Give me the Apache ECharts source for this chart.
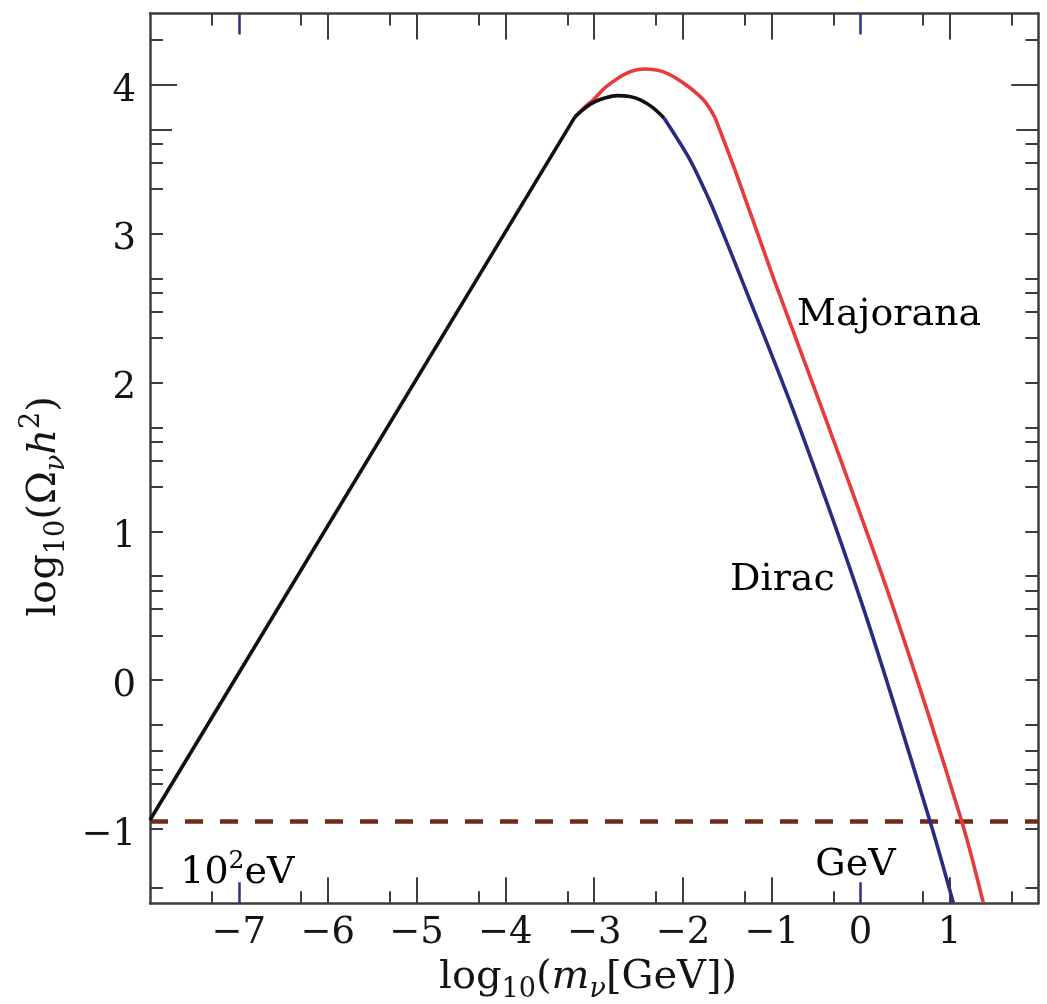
<!DOCTYPE html>
<html>
<head>
<meta charset="utf-8">
<script src="https://cdn.jsdelivr.net/npm/echarts@6/dist/echarts.min.js"></script>
<style>
  html, body { margin: 0; padding: 0; background: #ffffff; }
  #chart { width: 1047px; height: 1004px; }
</style>
</head>
<body>
<div id="chart"></div>
<script>
// log10(m_nu / GeV) against log10(Omega_nu h^2)

// light (relativistic decoupling) branch
const lightMass  = [-8.0, -3.216];
const lightOmega = [-0.94, 3.785];

// common turnover before the Dirac branch splits off
const peakMass  = [-3.216, -3.10, -3.00, -2.88, -2.74, -2.60, -2.48, -2.35, -2.214];
const peakOmega = [ 3.785,  3.846, 3.884, 3.912, 3.928, 3.922, 3.900, 3.852, 3.778];

// Dirac neutrino
const diracMass  = [-2.214, -1.921, -1.715, -1.583, -1.339, -0.720, 0.030, 0.781, 1.043];
const diracOmega = [ 3.778,  3.497,  3.241,  3.054,  2.692,  1.751, 0.485, -0.949, -1.497];

// Majorana neutrino: rounded top up to the kink, then the falling branch
const majoranaTopMass   = [-3.216, -3.10, -3.01, -2.86, -2.63, -2.43, -2.22, -2.00, -1.77, -1.638];
const majoranaTopOmega  = [ 3.785,  3.855, 3.900, 3.990, 4.080, 4.107, 4.088, 4.015, 3.900, 3.778];
const majoranaTailMass  = [-1.638, -1.403, -0.975, -0.390, 0.368, 1.138, 1.381];
const majoranaTailOmega = [ 3.778,  3.409,  2.692,  1.751, 0.485, -0.949, -1.497];

// Omega h^2 ~ 0.11
const closureOmega = -0.95;

// axis ticks and labels
const xLabelValues  = [-7, -6, -5, -4, -3, -2, -1, 0, 1];
const xMajorTicks   = [-6, -5, -4, -3, -2, -1, 1];
const xMarkedTicks  = [-7, 0];               // 10^2 eV and 1 GeV
const xHalfTicks    = [-7.301, -6.301, -5.301, -4.301, -3.301, -2.301, -1.301, -0.301, 0.699, 1.699];
const yLabelValues  = [-1, 0, 1, 2, 3, 4];
const yTicks        = [-1.398, -1, -0.699, -0.602, -0.477, -0.301, 0, 0.301, 0.477, 0.602, 0.699,
                       1, 1.301, 1.477, 1.602, 1.699, 2, 2.301, 2.477, 2.602, 2.699,
                       3, 3.301, 3.477, 3.602, 4.301];
const yLongTick     = [4];
const yMidTick      = [3.699];

const FONT = '"DejaVu Serif", "Liberation Serif", serif';
const TEXT_COLOR = '#141414';
const AXIS_COLOR = '#3d3d3d';
const MARK_BLUE = '#2e3089';

const X_MIN = -8, X_MAX = 2, Y_MIN = -1.5, Y_MAX = 4.48;

function pairs(xs, ys) { return xs.map((x, i) => [x, ys[i]]); }
function minusText(v) { return v < 0 ? '\u2212' + Math.abs(v) : String(v); }

const chart = echarts.init(document.getElementById('chart'), null, { renderer: 'canvas' });

function axisDef(position, min, max, opts) {
  return Object.assign({
    type: 'value', position: position, min: min, max: max,
    splitLine: { show: false },
    axisLine: { show: false, onZero: false },
    axisLabel: { show: false },
    axisTick: { show: false }
  }, opts);
}
const xAxisDef = (pos, opts) => axisDef(pos, X_MIN, X_MAX, opts);
const yAxisDef = (pos, opts) => axisDef(pos, Y_MIN, Y_MAX, opts);

function ticks(values, length, color, width) {
  return { show: true, inside: true, length: length, customValues: values,
           lineStyle: { color: color, width: width } };
}
const frameLine = { show: true, onZero: false, lineStyle: { color: AXIS_COLOR, width: 2.5 } };

const nameRich = {
  t: { fontFamily: FONT, fontSize: 40, lineHeight: 52, color: TEXT_COLOR },
  i: { fontFamily: FONT, fontSize: 40, lineHeight: 52, color: TEXT_COLOR, fontStyle: 'italic' },
  s: { fontFamily: FONT, fontSize: 27, lineHeight: 29, color: TEXT_COLOR, verticalAlign: 'bottom' },
  si: { fontFamily: FONT, fontSize: 27, lineHeight: 29, color: TEXT_COLOR, verticalAlign: 'bottom', fontStyle: 'italic' },
  p: { fontFamily: FONT, fontSize: 27, lineHeight: 29, color: TEXT_COLOR, verticalAlign: 'top' }
};

const option = {
  backgroundColor: '#ffffff',
  animation: false,
  grid: { left: 150, right: 8.7, top: 13.5, bottom: 100.7, containLabel: false, outerBoundsMode: 'none' },
  xAxis: [
    xAxisDef('bottom', {
      axisLine: frameLine,
      axisLabel: { show: true, customValues: xLabelValues, formatter: minusText,
                   fontFamily: FONT, fontSize: 37, color: TEXT_COLOR, margin: 12 },
      name: '{t|log}{s|10}{t|(}{i|m}{si|ν}{t|[GeV])}',
      nameLocation: 'middle', nameGap: 47,
      nameTextStyle: { rich: nameRich, padding: [0, 12, 0, 0] }
    }),
    xAxisDef('bottom', { axisTick: ticks(xMajorTicks, 26, AXIS_COLOR, 2) }),
    xAxisDef('bottom', { axisTick: ticks(xHalfTicks, 12, AXIS_COLOR, 2) }),
    xAxisDef('bottom', { axisTick: ticks(xMarkedTicks, 21, MARK_BLUE, 2.5) }),
    xAxisDef('top', { axisLine: frameLine, axisTick: ticks(xMajorTicks, 26, AXIS_COLOR, 2) }),
    xAxisDef('top', { axisTick: ticks(xHalfTicks, 12, AXIS_COLOR, 2) }),
    xAxisDef('top', { axisTick: ticks(xMarkedTicks, 21, MARK_BLUE, 2.5) })
  ],
  yAxis: [
    yAxisDef('left', {
      axisLine: frameLine,
      axisTick: ticks(yTicks, 13, AXIS_COLOR, 2),
      axisLabel: { show: true, customValues: yLabelValues, margin: 14,
                   formatter: v => '{v|' + minusText(v) + '}',
                   rich: { v: { fontFamily: FONT, fontSize: 37, lineHeight: 40, color: TEXT_COLOR,
                                padding: [12, 0, 0, 0] } } },
      name: '{t|log}{s|10}{t|(Ω}{si|ν}{i|h}{p|2}{t|)}',
      nameLocation: 'middle', nameGap: 68, nameRotate: 90,
      nameTextStyle: { rich: nameRich, padding: [0, 96, 0, 0] }
    }),
    yAxisDef('left', { axisTick: ticks(yLongTick, 27, AXIS_COLOR, 2) }),
    yAxisDef('left', { axisTick: ticks(yMidTick, 22, AXIS_COLOR, 2) }),
    yAxisDef('right', { axisLine: frameLine, axisTick: ticks(yTicks, 13, AXIS_COLOR, 2) }),
    yAxisDef('right', { axisTick: ticks(yLongTick, 27, AXIS_COLOR, 2) }),
    yAxisDef('right', { axisTick: ticks(yMidTick, 22, AXIS_COLOR, 2) })
  ],
  series: [
    {
      name: 'closure', type: 'line', symbol: 'none', silent: true, z: 1,
      data: [[X_MIN, closureOmega], [X_MAX, closureOmega]],
      lineStyle: { color: '#6f2b1b', width: 4.5, type: [18, 17] }
    },
    {
      name: 'Majorana', type: 'line', symbol: 'none', smooth: 0.35, z: 2,
      data: pairs(majoranaTopMass, majoranaTopOmega),
      lineStyle: { color: '#e63b3d', width: 3.6 }
    },
    {
      name: 'Majorana', type: 'line', symbol: 'none', smooth: 0.3, z: 2,
      data: pairs(majoranaTailMass, majoranaTailOmega),
      lineStyle: { color: '#e63b3d', width: 3.6 }
    },
    {
      name: 'Dirac', type: 'line', symbol: 'none', smooth: 0.3, z: 3,
      data: pairs(diracMass, diracOmega),
      lineStyle: { color: '#2b2c80', width: 3.6 }
    },
    {
      name: 'light', type: 'line', symbol: 'none', z: 4,
      data: pairs(lightMass, lightOmega),
      lineStyle: { color: '#111111', width: 3.6 }
    },
    {
      name: 'turnover', type: 'line', symbol: 'none', smooth: 0.35, z: 4,
      data: pairs(peakMass, peakOmega),
      lineStyle: { color: '#111111', width: 3.6 }
    }
  ]
};

chart.setOption(option);

// in-plot annotations, anchored in data coordinates
const annotations = [
  { at: [-0.716, 2.45], text: '{t|Majorana}' },
  { at: [-1.47, 0.67], text: '{t|Dirac}' },
  { at: [-7.66, -1.295], text: '{t|10}{p|2}{t|eV}' },
  { at: [-0.51, -1.245], text: '{t|GeV}' }
];
const labelRich = {
  t: { fontFamily: FONT, fontSize: 38, lineHeight: 48, color: TEXT_COLOR },
  p: { fontFamily: FONT, fontSize: 25, lineHeight: 28, color: TEXT_COLOR, verticalAlign: 'top' }
};
chart.setOption({
  graphic: annotations.map(a => {
    const p = chart.convertToPixel({ gridIndex: 0 }, a.at);
    return {
      type: 'text', x: p[0], y: p[1], z: 10, silent: true,
      style: { text: a.text, rich: labelRich, align: 'left', verticalAlign: 'middle' }
    };
  })
});
</script>
</body>
</html>
